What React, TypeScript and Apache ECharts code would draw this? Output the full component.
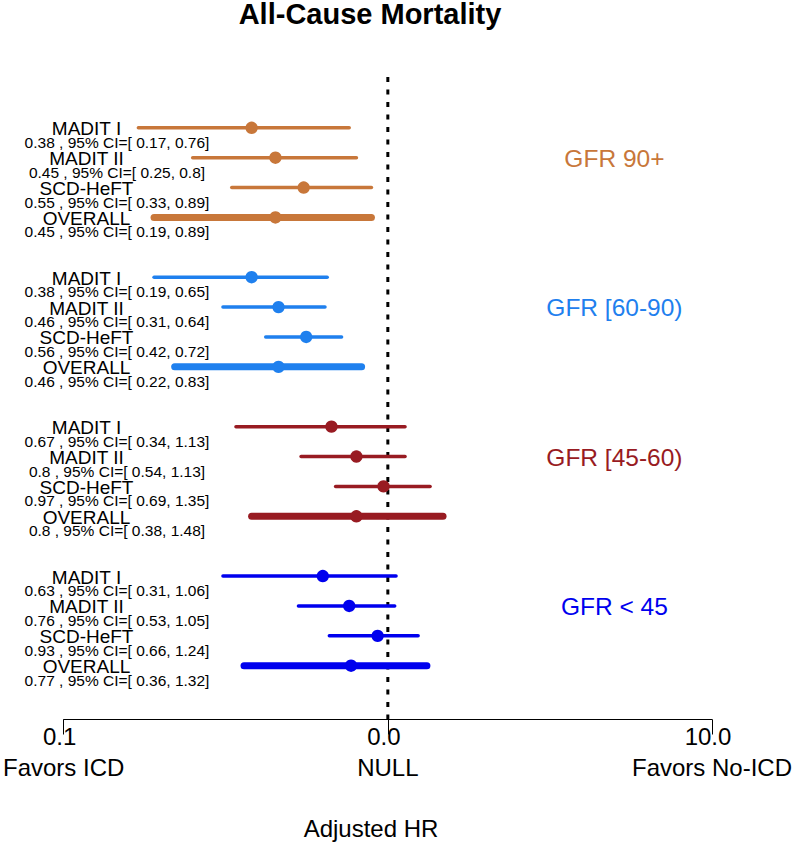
import React, { useEffect, useRef } from "react";
import * as echarts from "echarts";

// ---- data ----
const groupLabels = ["GFR 90+", "GFR [60-90)", "GFR [45-60)", "GFR < 45"];
const groupColors = ["#C8773A", "#1F80EE", "#981B22", "#0000EE"];
const studies = ["MADIT I", "MADIT II", "SCD-HeFT", "OVERALL"];

const hrGfr90 = [0.38, 0.45, 0.55, 0.45];
const loGfr90 = [0.17, 0.25, 0.33, 0.19];
const hiGfr90 = [0.76, 0.8, 0.89, 0.89];

const hrGfr60 = [0.38, 0.46, 0.56, 0.46];
const loGfr60 = [0.19, 0.31, 0.42, 0.22];
const hiGfr60 = [0.65, 0.64, 0.72, 0.83];

const hrGfr45 = [0.67, 0.8, 0.97, 0.8];
const loGfr45 = [0.34, 0.54, 0.69, 0.38];
const hiGfr45 = [1.13, 1.13, 1.35, 1.48];

const hrGfrLow = [0.63, 0.76, 0.93, 0.77];
const loGfrLow = [0.31, 0.53, 0.66, 0.36];
const hiGfrLow = [1.06, 1.05, 1.24, 1.32];

const groupHr = [hrGfr90, hrGfr60, hrGfr45, hrGfrLow];
const groupLo = [loGfr90, loGfr60, loGfr45, loGfrLow];
const groupHi = [hiGfr90, hiGfr60, hiGfr45, hiGfrLow];

const xTickLabels = ["0.1", "0.0", "10.0"];
const xTickSubLabels = ["Favors ICD", "NULL", "Favors No-ICD"];
const nullValue = 1;
const groupLabelX = 5;
const titleText = "All-Cause Mortality";
const xAxisTitle = "Adjusted HR";

const FONT = "'Liberation Sans', Arial, Helvetica, sans-serif";

export default function App() {
  const ref = useRef<HTMLDivElement>(null);

  useEffect(() => {
    if (!ref.current) return;
    const chart = echarts.init(ref.current, undefined, { renderer: "svg" });

    const rowsPerGroup = studies.length + 1;

    const series: any[] = groupLabels.map((g, gi) => {
      const color = groupColors[gi];
      const data = studies.map((s, si) => [
        groupHr[gi][si],
        gi * rowsPerGroup + si,
        groupLo[gi][si],
        groupHi[gi][si],
        si,
      ]);
      return {
        type: "custom",
        name: g,
        coordinateSystem: "cartesian2d",
        encode: { x: 0, y: 1 },
        data,
        renderItem: (params: any, api: any) => {
          const hr = api.value(0);
          const row = api.value(1);
          const lo = api.value(2);
          const hi = api.value(3);
          const si = api.value(4);
          const p = api.coord([hr, row]);
          const a = api.coord([lo, row]);
          const b = api.coord([hi, row]);
          const overall = studies[si] === "OVERALL";
          return {
            type: "group",
            children: [
              {
                type: "line",
                shape: { x1: a[0], y1: a[1], x2: b[0], y2: b[1] },
                style: { stroke: color, lineWidth: overall ? 7 : 3.5, lineCap: "round" },
              },
              {
                type: "circle",
                shape: { cx: p[0], cy: p[1], r: 6.2 },
                style: { fill: color },
              },
              {
                type: "text",
                x: 86.5,
                y: p[1] + 1,
                style: {
                  text: studies[si],
                  fill: "#000",
                  fontSize: 19,
                  fontFamily: FONT,
                  align: "center",
                  verticalAlign: "middle",
                  textAlign: "center",
                  textVerticalAlign: "middle",
                },
              },
              {
                type: "text",
                x: 117,
                y: p[1] + 14.5,
                style: {
                  text: `${hr} , 95% CI=[ ${lo}, ${hi}]`,
                  fill: "#000",
                  fontSize: 15.5,
                  fontFamily: FONT,
                  align: "center",
                  verticalAlign: "middle",
                  textAlign: "center",
                  textVerticalAlign: "middle",
                },
              },
            ],
          };
        },
      };
    });

    series.push({
      type: "custom",
      name: "groups",
      coordinateSystem: "cartesian2d",
      encode: { x: 0, y: 1 },
      data: groupLabels.map((g, gi) => [groupLabelX, gi * rowsPerGroup + 1, gi]),
      renderItem: (params: any, api: any) => {
        const gi = api.value(2);
        const p = api.coord([api.value(0), api.value(1)]);
        return {
          type: "text",
          x: p[0],
          y: p[1] + 0.5,
          style: {
            text: groupLabels[gi],
            fill: groupColors[gi],
            fontSize: 24.5,
            fontFamily: FONT,
            align: "center",
            verticalAlign: "middle",
            textAlign: "center",
            textVerticalAlign: "middle",
          },
        };
      },
    });

    series.push({
      type: "line",
      name: "null",
      data: [
        [nullValue, -1.7],
        [nullValue, 19.8],
      ],
      symbol: "none",
      silent: true,
      z: 1,
      lineStyle: { color: "#000", width: 3, type: [5, 7.5] },
    });

    const option: any = {
      animation: false,
      backgroundColor: "#fff",
      grid: { left: 60, right: 88, top: 77, bottom: 123.5 },
      xAxis: {
        type: "log",
        logBase: 10,
        min: 0.1,
        max: 10,
        splitNumber: 2,
        axisLine: { show: true, onZero: false, lineStyle: { color: "#000", width: 1 } },
        axisTick: { show: true, length: 15, lineStyle: { color: "#000", width: 1 } },
        splitLine: { show: false },
        minorTick: { show: false },
        axisLabel: {
          margin: 1,
          color: "#000",
          fontFamily: FONT,
          fontSize: 24,
          showMinLabel: true,
          showMaxLabel: true,
          formatter: (v: number) => {
            const i = Math.round(Math.log10(v)) + 1;
            return `{n|${xTickLabels[i]}}{p| }\n{s|${xTickSubLabels[i]}}`;
          },
          rich: {
            n: { fontSize: 24, lineHeight: 31, fontFamily: FONT, color: "#000" },
            p: { fontSize: 24, lineHeight: 31, fontFamily: FONT, color: "#000", width: 8 },
            s: { fontSize: 24, lineHeight: 31, fontFamily: FONT, color: "#000" },
          },
        },
      },
      yAxis: {
        type: "value",
        inverse: true,
        min: -1.7,
        max: 19.8,
        show: false,
        splitLine: { show: false },
      },
      graphic: [
        {
          type: "text",
          x: 370,
          y: 14,
          style: {
            text: titleText,
            fill: "#000",
            fontSize: 29,
            fontWeight: "bold",
            fontFamily: FONT,
            align: "center",
            verticalAlign: "middle",
            textAlign: "center",
            textVerticalAlign: "middle",
          },
        },
        {
          type: "text",
          x: 371,
          y: 828,
          style: {
            text: xAxisTitle,
            fill: "#000",
            fontSize: 24,
            fontFamily: FONT,
            align: "center",
            verticalAlign: "middle",
            textAlign: "center",
            textVerticalAlign: "middle",
          },
        },
      ],
      series,
    };

    chart.setOption(option);
    return () => chart.dispose();
  }, []);

  return (
    <div
      ref={ref}
      style={{ position: "absolute", left: 0, top: 0, width: 800, height: 843 }}
    />
  );
}
